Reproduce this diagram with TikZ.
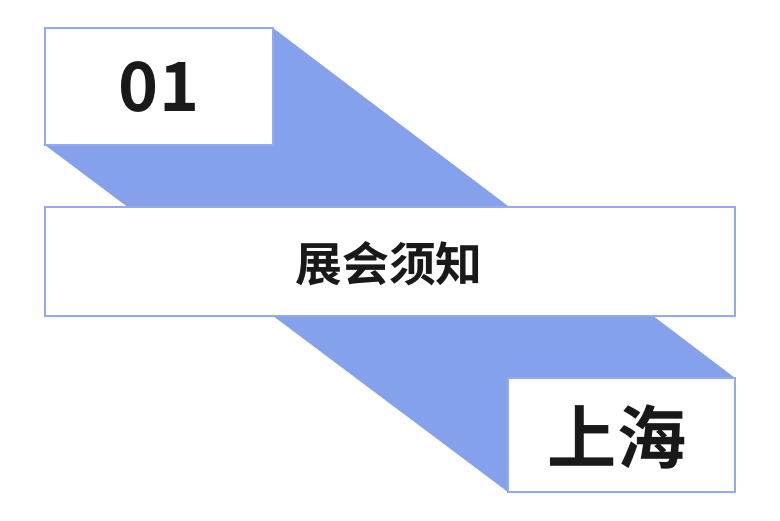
\documentclass[tikz,border=0pt]{standalone}
\usepackage{fontspec}
\newfontfamily\cjk{Noto Sans CJK SC}[BoldFont={* Bold}]
\definecolor{bandblue}{HTML}{86A1EC}
\definecolor{lineblue}{HTML}{93AAF0}
\tikzset{
  plate/.style={draw=lineblue, line width=1.2pt, fill=white, inner sep=0pt},
  plate text/.style={font=\cjk\bfseries, text=black!90}
}
\begin{document}
\begin{tikzpicture}[x=0.03cm, y=-0.03cm]
		\useasboundingbox (0,0) rectangle (780,520);
		% Band behind the plates
		\fill[bandblue] (45,145) -- (273,28) -- (735,378) -- (508,492) -- cycle;

		% Plates
		\node[plate, minimum width=228*0.03cm, minimum height=117*0.03cm] (num) at (159,86.5) {};
		\node[plate, minimum width=690*0.03cm, minimum height=109*0.03cm] (title) at (390,261.5) {};
		\node[plate, minimum width=227*0.03cm, minimum height=114*0.03cm] (city) at (621.5,435) {};

		% Texts
		\node[plate text, font=\cjk\bfseries\fontsize{58}{60}\selectfont] (numtext) at (num) {01};
		\node[plate text, font=\cjk\bfseries\fontsize{40}{42}\selectfont] (titletext) at (389,264) {展会须知};
		\node[plate text, font=\cjk\bfseries\fontsize{59}{61}\selectfont] (citytext) at (617,437) {上海};
	\end{tikzpicture}
\end{document}
